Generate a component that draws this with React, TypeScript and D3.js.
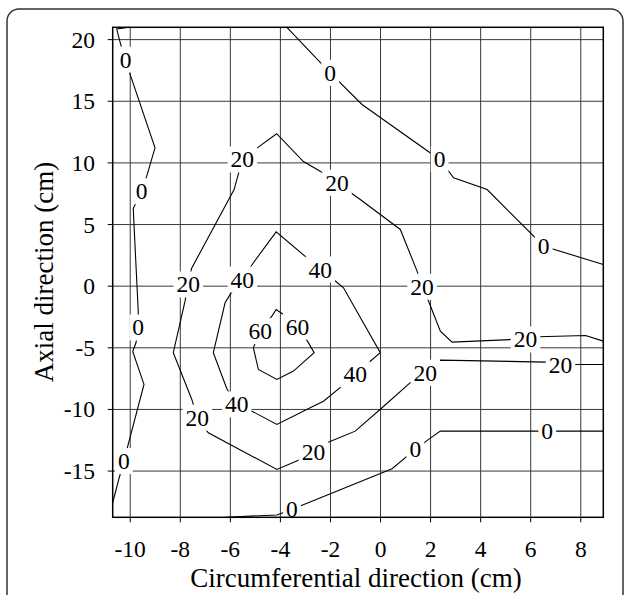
import React from 'react';
import * as d3 from 'd3';

// axis ticks (cm)
const xTicks = [-10, -8, -6, -4, -2, 0, 2, 4, 6, 8];
const yTicks = [-15, -10, -5, 0, 5, 10, 15, 20];
const xDomain = [-10.7, 8.9];
const yDomain = [-18.75, 21.0];

// contour polylines, [circumferential, axial]
const contour0Left = [
  [-10.04, 21.0], [-10.54, 20.86], [-10.38, 19.6], [-10.18, 18.38], [-10.0, 17.16],
  [-9.01, 11.22], [-9.34, 8.92], [-9.54, 7.7], [-9.88, 6.3], [-9.68, -2.03],
  [-9.68, -3.35], [-9.77, -4.59], [-9.9, -5.3], [-9.45, -7.97], [-10.08, -12.84],
  [-10.25, -14.19], [-10.44, -15.54], [-10.7, -17.57],
];
const contour0Top = [
  [-3.74, 21.0], [-2.01, 17.31], [-0.74, 14.74], [2.36, 10.28], [2.92, 8.79],
  [4.26, 7.84], [6.52, 3.24], [8.9, 1.76],
];
const contour0Bottom = [
  [-6.19, -18.75], [-4.14, -18.56], [-3.54, -18.11], [-3.21, -17.84], [0.46, -14.81],
  [1.39, -13.24], [1.92, -12.43], [2.39, -11.76], [6.66, -11.76], [8.9, -11.76],
];
const contour20 = [
  [8.9, -4.46], [8.19, -4.0], [6.32, -4.1], [5.79, -4.32], [5.32, -4.32],
  [2.86, -4.54], [2.39, -3.65], [1.92, -1.22], [1.66, -0.05], [1.46, 1.22],
  [0.79, 4.6], [-0.81, 7.03], [-1.74, 8.39], [-2.41, 9.33], [-3.08, 10.11],
  [-4.15, 12.37], [-4.98, 11.14], [-5.52, 10.28], [-5.85, 7.84], [-7.55, 1.44],
  [-7.68, 0.14], [-7.81, -1.22], [-8.28, -5.4], [-7.54, -9.19], [-7.32, -10.67],
  [-6.88, -11.89], [-4.14, -14.87], [-3.21, -14.06], [-2.68, -13.45], [-2.14, -12.7],
  [-1.01, -11.76], [0.06, -9.86], [1.19, -7.83], [1.79, -7.02], [2.39, -6.0],
  [6.66, -6.16], [7.19, -6.43], [7.72, -6.35], [8.9, -6.35],
];
const contour40 = [
  [-5.52, 0.54], [-5.08, 1.9], [-4.17, 4.41], [-2.94, 2.3], [-2.41, 1.35],
  [-1.88, 0.54], [-1.48, -0.13], [-0.01, -5.4], [-0.48, -6.21], [-1.01, -7.16],
  [-1.54, -8.11], [-2.28, -9.33], [-2.81, -9.86], [-4.14, -11.22], [-5.21, -10.06],
  [-5.74, -9.59], [-6.14, -8.32], [-6.68, -5.4], [-6.21, -1.35], [-5.98, -0.59],
];
const contour60 = [
  [-4.81, -3.65], [-4.34, -2.43], [-4.17, -1.89], [-3.88, -2.3], [-3.32, -3.29],
  [-2.92, -4.46], [-2.65, -5.4], [-3.48, -6.89], [-4.14, -7.57], [-4.88, -6.76],
  [-5.08, -5.0],
];

// contour labels: [x, y, level]
const contourLabels = [
  [-10.18, 18.38, 0], [-9.54, 7.7, 0], [-9.68, -3.35, 0], [-10.25, -14.19, 0],
  [-2.01, 17.31, 0], [2.36, 10.28, 0], [6.52, 3.24, 0], [-3.54, -18.11, 0],
  [1.39, -13.24, 0], [6.66, -11.76, 0],
  [5.79, -4.32, 20], [1.66, -0.05, 20], [-1.74, 8.39, 20], [-5.52, 10.28, 20],
  [-7.68, 0.14, 20], [-7.32, -10.67, 20], [-2.68, -13.45, 20], [1.79, -7.02, 20],
  [7.19, -6.43, 20],
  [-5.52, 0.54, 40], [-2.41, 1.35, 40], [-1.01, -7.16, 40], [-5.74, -9.59, 40],
  [-4.81, -3.65, 60], [-3.32, -3.29, 60],
];

const W = 625;
const H = 595;
const plot = { left: 112.7, right: 603.3, top: 27.3, bottom: 517.3 };
const FONT = '"Liberation Serif", "Times New Roman", serif';

export default function App() {
  const x = d3.scaleLinear().domain(xDomain).range([plot.left, plot.right]);
  const y = d3.scaleLinear().domain(yDomain).range([plot.bottom, plot.top]);

  const line = d3.line<number[]>().x(d => x(d[0])).y(d => y(d[1]));
  const loop = d3
    .line<number[]>()
    .x(d => x(d[0]))
    .y(d => y(d[1]))
    .curve(d3.curveLinearClosed);

  const labelSize = 23.5;

  return (
    <svg
      width={W}
      height={H}
      style={{ position: 'absolute', left: 0, top: 0, background: '#fff' }}
    >
      {/* outer rounded border */}
      <rect x={7} y={9} width={616} height={620} rx={12} fill="#fff" stroke="#333" strokeWidth={1.5} />

      {/* grid */}
      {xTicks.map(t => (
        <line key={'gx' + t} x1={x(t)} x2={x(t)} y1={plot.top} y2={plot.bottom} stroke="#383838" strokeWidth={1} />
      ))}
      {yTicks.map(t => (
        <line key={'gy' + t} x1={plot.left} x2={plot.right} y1={y(t)} y2={y(t)} stroke="#383838" strokeWidth={1} />
      ))}

      {/* contours */}
      <g fill="none" stroke="#000" strokeWidth={1.1}>
        <path d={line(contour0Left) || ''} />
        <path d={line(contour0Top) || ''} />
        <path d={line(contour0Bottom) || ''} />
        <path d={line(contour20) || ''} />
        <path d={loop(contour40) || ''} />
        <path d={loop(contour60) || ''} />
      </g>

      {/* contour labels */}
      {contourLabels.map(([lx, ly, lv], i) => {
        const txt = String(lv);
        const w = txt.length * labelSize * 0.5 + 6;
        const h = 26;
        return (
          <g key={'lab' + i} transform={`translate(${x(lx)},${y(ly)})`}>
            <rect x={-w / 2} y={-h / 2} width={w} height={h} fill="#fff" />
            <text textAnchor="middle" dy="0.34em" fontFamily={FONT} fontSize={labelSize} fill="#000">
              {txt}
            </text>
          </g>
        );
      })}

      {/* frame */}
      <rect
        x={plot.left}
        y={plot.top}
        width={plot.right - plot.left}
        height={plot.bottom - plot.top}
        fill="none"
        stroke="#000"
        strokeWidth={1.5}
      />

      {/* y axis */}
      {yTicks.map(t => (
        <g key={'ty' + t}>
          <line x1={plot.left - 5} x2={plot.left} y1={y(t)} y2={y(t)} stroke="#000" />
          <text x={95} y={y(t)} dy="0.34em" textAnchor="end" fontFamily={FONT} fontSize={23.5}>
            {t}
          </text>
        </g>
      ))}
      {/* x axis */}
      {xTicks.map(t => (
        <g key={'tx' + t}>
          <line x1={x(t)} x2={x(t)} y1={plot.bottom} y2={plot.bottom + 5} stroke="#000" />
          <text x={x(t)} y={557} textAnchor="middle" fontFamily={FONT} fontSize={23.5}>
            {t}
          </text>
        </g>
      ))}

      <text x={356} y={587} textAnchor="middle" fontFamily={FONT} fontSize={27}>
        Circumferential direction (cm)
      </text>
      <text
        transform={`translate(53,272) rotate(-90)`}
        textAnchor="middle"
        fontFamily={FONT}
        fontSize={27}
      >
        Axial direction (cm)
      </text>
    </svg>
  );
}
